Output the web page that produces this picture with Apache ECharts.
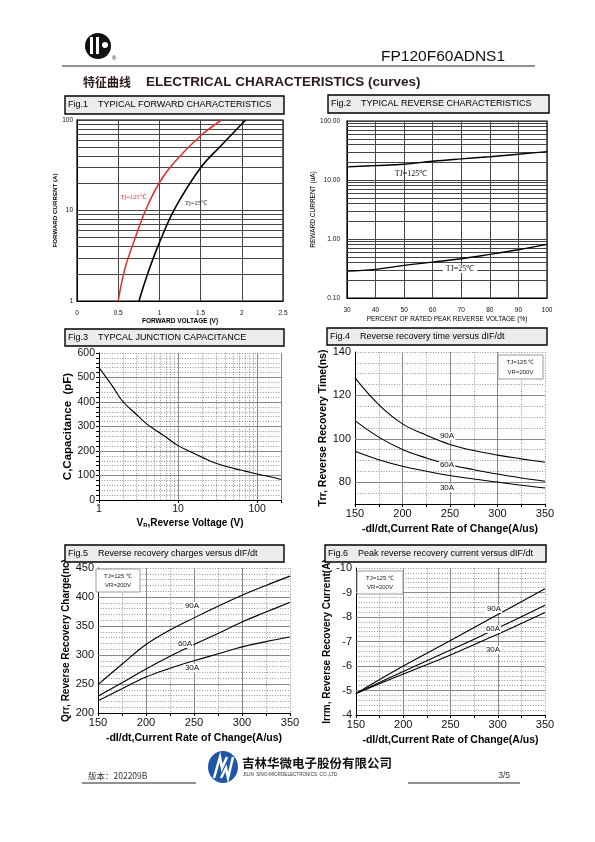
<!DOCTYPE html>
<html><head><meta charset="utf-8">
<script src="https://cdn.jsdelivr.net/npm/echarts@6/dist/echarts.min.js"></script>
<style>html,body{margin:0;padding:0;background:#fff}#c{width:595px;height:842px}</style>
</head><body><div id="c"></div>
<script>
// ---------- DATA ----------
// Fig.1 typical forward characteristics (V, A)
const fig1VfTj125 = [0.50, 0.583, 0.704, 0.825, 0.995, 1.19, 1.50, 1.756];
const fig1IfTj125 = [1, 2.3, 4.9, 9.7, 20, 34.7, 67, 100];
const fig1VfTj25  = [0.752, 0.866, 0.995, 1.19, 1.50, 1.756, 2.047];
const fig1IfTj25  = [1, 2.1, 4.3, 10.6, 29.7, 53, 100];
const fig1MinorI  = [2,3,4,5,6,7,8,9,20,30,40,50,60,70,80,90];
// Fig.2 typical reverse characteristics (% , uA)
const fig2Percent = [30, 40, 50, 60, 70, 80, 90, 100];
const fig2IrTj125 = [16.7, 17.5, 18.5, 20.8, 22.8, 24.8, 27.3, 30.3];
const fig2IrTj25  = [0.286, 0.306, 0.357, 0.406, 0.463, 0.548, 0.657, 0.81];
const fig2MinorI  = [0.2,0.3,0.4,0.5,0.6,0.7,0.8,0.9,2,3,4,5,6,7,8,9,20,30,40,50,60,70,80,90];
// Fig.3 junction capacitance (V, pF)
const fig3Vr  = [1, 1.5, 2, 3, 4, 5, 7, 10, 15, 20, 30, 50, 70, 100, 150, 200];
const fig3Cap = [540, 462, 402, 348, 311, 289, 257, 222, 194, 175, 150, 129, 118, 106, 94, 84];
const fig3MinorV = [2,3,4,5,6,7,8,9,20,30,40,50,60,70,80,90,200];
const fig3MajorC = [100, 200, 300, 400, 500];
// Fig.4 trr vs dI/dt
const didt = [150, 175, 200, 225, 250, 275, 300, 325, 350];
const fig4Trr90 = [128.1, 115.8, 106.9, 101.7, 97.4, 94.6, 92.5, 90.8, 89.2];
const fig4Trr60 = [108.4, 100.8, 95.1, 91.2, 88.1, 85.8, 83.8, 82.0, 80.5];
const fig4Trr30 = [94.3, 90.4, 87.4, 85.1, 83.1, 81.5, 80.1, 78.6, 77.4];
const fig4MajorT = [80, 100, 120];
const fig4LabelT = [80, 100, 120, 140];
// Fig.5 Qrr vs dI/dt
const fig5Qrr90 = [249, 284, 318, 343, 364, 384, 403, 420, 436];
const fig5Qrr60 = [229, 252, 276, 298, 318, 337, 357, 374, 391];
const fig5Qrr30 = [221, 242, 262, 277, 290, 302, 314, 323, 331];
const fig5MajorQ = [250, 300, 350, 400];
// Fig.6 Irrm vs dI/dt
const didt6 = [150, 200, 250, 300, 350];
const fig6Irrm90 = [-4.88, -6.0, -7.04, -8.1, -9.15];
const fig6Irrm60 = [-4.88, -5.78, -6.65, -7.55, -8.48];
const fig6Irrm30 = [-4.88, -5.67, -6.45, -7.3, -8.18];
const fig6MajorI = [-9, -8, -7, -6, -5];
const didtMajor = [200, 250, 300];

// ---------- HELPERS ----------
const SANS = "'Liberation Sans', Arial, sans-serif";
const NARROW = "'Liberation Sans Narrow', 'Liberation Sans', Arial, sans-serif";
const SERIF = "'Liberation Serif', 'Times New Roman', serif";
const zip = (a, b) => a.map((v, i) => [v, b[i]]);
const isPow10 = v => { const l = Math.log10(v); return Math.abs(l - Math.round(l)) < 1e-6; };
const near = (v, arr) => arr.some(a => Math.abs(a - v) < 1e-6);
const dotted = { color: '#777', width: 0.8, type: [1, 1.6] };
const solidG = { color: '#808080', width: 0.9, type: 'solid' };

function gridMarks(xs, ys, style) {
  return {
    silent: true, symbol: ['none', 'none'], label: { show: false }, animation: false,
    lineStyle: style, z: 1,
    data: [...(ys || []).map(v => ({ yAxis: v })), ...(xs || []).map(v => ({ xAxis: v }))]
  };
}
function line(gi, data, extra) {
  return Object.assign({
    type: 'line', xAxisIndex: gi, yAxisIndex: gi, data, smooth: 0.4, showSymbol: false,
    symbol: 'none', lineStyle: { color: '#000', width: 1.1 }, z: 5
  }, extra || {});
}
const tickLab = (size, fam) => ({ fontSize: size, color: '#111', fontFamily: fam || NARROW });
const boldName = size => ({ fontSize: size, fontWeight: 'bold', color: '#000', fontFamily: NARROW });

// ---------- GRAPHIC ----------
function titleBox(x, y, w, h, text) {
  return [
    { type: 'rect', shape: { x, y, width: w, height: h }, style: { fill: '#ececec', stroke: '#000', lineWidth: 1.4 }, z: 100 },
    { type: 'text', x: x + 3, y: y + h / 2, style: { text, fontSize: 9, fontFamily: SANS, fill: '#000', verticalAlign: 'middle' }, z: 101 }
  ];
}
function legendBox(x, y, w, h) {
  return [
    { type: 'rect', shape: { x, y, width: w, height: h }, style: { fill: '#fff', stroke: '#999', lineWidth: 1 }, z: 100 },
    { type: 'text', x: x + w / 2, y: y + h * 0.3, style: { text: 'TJ=125 ℃', fontSize: 6, fontFamily: SANS, fill: '#222', align: 'center', verticalAlign: 'middle' }, z: 101 },
    { type: 'text', x: x + w / 2, y: y + h * 0.72, style: { text: 'VR=200V', fontSize: 6, fontFamily: SANS, fill: '#222', align: 'center', verticalAlign: 'middle' }, z: 101 }
  ];
}
function curveLabel(x, y, text, opts) {
  return { type: 'text', x, y, z: 102, style: Object.assign({ text, fontSize: 8, fontFamily: NARROW, fill: '#111', align: 'center', verticalAlign: 'middle', backgroundColor: '#fff', padding: [0, 1] }, opts || {}) };
}

const graphics = [
  // header logo
  { type: 'circle', shape: { cx: 98, cy: 46, r: 13 }, style: { fill: '#111' }, z: 100 },
  { type: 'rect', shape: { x: 90, y: 37, width: 3, height: 17 }, style: { fill: '#fff' }, z: 101 },
  { type: 'rect', shape: { x: 96, y: 37, width: 3, height: 17 }, style: { fill: '#fff' }, z: 101 },
  { type: 'circle', shape: { cx: 105, cy: 45, r: 3 }, style: { fill: '#fff' }, z: 101 },
  { type: 'text', x: 112, y: 55, style: { text: '®', fontSize: 6, fill: '#000', fontFamily: SANS }, z: 101 },
  { type: 'text', x: 381, y: 57, style: { text: 'FP120F60ADNS1', fontSize: 15.5, fontFamily: SANS, fill: '#111', verticalAlign: 'middle' }, z: 100 },
  { type: 'line', shape: { x1: 62, y1: 66, x2: 535, y2: 66 }, style: { stroke: '#222', lineWidth: 1 }, z: 100 },
  { type: 'text', x: 83, y: 82, style: { text: '特征曲线', fontSize: 12, fontWeight: 'bold', fontFamily: "'Noto Sans CJK SC', sans-serif", fill: '#2a1a1a', verticalAlign: 'middle' }, z: 100 },
  { type: 'text', x: 146, y: 82, style: { text: 'ELECTRICAL CHARACTERISTICS (curves)', fontSize: 13.5, fontWeight: 'bold', fontFamily: SANS, fill: '#2a1a1a', verticalAlign: 'middle' }, z: 100 },
  // footer
  { type: 'text', x: 88, y: 776, style: { text: '版本：202209B', fontSize: 8.5, fontFamily: "'Noto Sans CJK SC', sans-serif", fill: '#333', verticalAlign: 'middle' }, z: 100 },
  { type: 'line', shape: { x1: 82, y1: 783, x2: 196, y2: 783 }, style: { stroke: '#222', lineWidth: 1 }, z: 100 },
  { type: 'line', shape: { x1: 408, y1: 783, x2: 520, y2: 783 }, style: { stroke: '#222', lineWidth: 1 }, z: 100 },
  { type: 'text', x: 510, y: 776, style: { text: '3/5', fontSize: 8.5, fontFamily: SANS, fill: '#333', align: 'right', verticalAlign: 'middle' }, z: 100 },
  { type: 'ellipse', shape: { cx: 223, cy: 767, rx: 15, ry: 16 }, style: { fill: '#1f56a8' }, z: 100 },
  { type: 'polyline', shape: { points: [[214, 778], [220, 757], [222, 768], [227, 757]] }, style: { stroke: '#fff', lineWidth: 2.5, fill: null }, z: 101 },
  { type: 'polyline', shape: { points: [[221, 778], [226, 768], [228, 778], [233, 757]] }, style: { stroke: '#fff', lineWidth: 2.5, fill: null }, z: 101 },
  { type: 'text', x: 242, y: 763, style: { text: '吉林华微电子股份有限公司', fontSize: 12.5, fontWeight: 'bold', fontFamily: "'Noto Sans CJK SC', sans-serif", fill: '#111', verticalAlign: 'middle' }, z: 100 },
  { type: 'text', x: 243, y: 775, style: { text: 'JILIN  SINO-MICROELECTRONICS  CO.,LTD', fontSize: 4.6, fontFamily: SANS, fill: '#333', verticalAlign: 'middle' }, z: 100 },
  // title boxes
  ...titleBox(65, 96, 219, 18, 'Fig.1    TYPICAL FORWARD CHARACTERISTICS'),
  ...titleBox(328, 95, 221, 18, 'Fig.2    TYPICAL REVERSE CHARACTERISTICS'),
  ...titleBox(65, 329, 219, 17, 'Fig.3    TYPCAL JUNCTION CAPACITANCE'),
  ...titleBox(327, 328, 220, 17, 'Fig.4    Reverse recovery time versus dIF/dt'),
  ...titleBox(65, 545, 219, 17, 'Fig.5    Reverse recovery charges versus dIF/dt'),
  ...titleBox(325, 545, 221, 17, 'Fig.6    Peak reverse recovery current versus dIF/dt'),
  // legend boxes
  ...legendBox(498, 355, 45, 24),
  ...legendBox(96, 569, 44, 23),
  ...legendBox(357, 571, 46, 23),
  // curve labels
  curveLabel(133, 197, 'Tj=125℃', { fontFamily: SERIF, fontSize: 6.5, fill: '#d42a2a', backgroundColor: 'transparent' }),
  curveLabel(196, 203, 'Tj=25℃', { fontFamily: SERIF, fontSize: 6.5, fill: '#222', backgroundColor: 'transparent' }),
  curveLabel(411, 174, 'TJ=125℃', { fontFamily: SERIF, fontSize: 8, fill: '#111', backgroundColor: 'transparent' }),
  curveLabel(460, 269, 'TJ=25℃', { fontFamily: SERIF, fontSize: 8, fill: '#111', padding: [0, 3] }),
  curveLabel(447, 436, '90A'), curveLabel(447, 465, '60A'), curveLabel(447, 488, '30A'),
  curveLabel(192, 606, '90A'), curveLabel(185, 644, '60A'), curveLabel(192, 668, '30A'),
  curveLabel(494, 609, '90A'), curveLabel(493, 629, '60A'), curveLabel(493, 650, '30A')
];

// ---------- AXES ----------
const grids = [
  { left: 77, top: 120, width: 206, height: 181, show: true, borderColor: '#000', borderWidth: 1.2 },
  { left: 347, top: 121, width: 200, height: 177, show: true, borderColor: '#000', borderWidth: 1.2 },
  { left: 99, top: 353, width: 182, height: 147 },
  { left: 355, top: 352, width: 190, height: 152 },
  { left: 98, top: 568, width: 192, height: 145 },
  { left: 356, top: 568, width: 189, height: 147 }
];
const didtX = gi => ({
  gridIndex: gi, type: 'value', min: 150, max: 350, interval: 25,
  axisLine: { show: true, onZero: false, lineStyle: { color: '#000', width: 1 } },
  axisTick: { show: true, length: 3, lineStyle: { color: '#000' }, interval: 0 },
  axisLabel: Object.assign(tickLab(11), { formatter: v => (v % 50 === 0 ? String(v) : ''), margin: 4 }),
  splitLine: { show: true, lineStyle: dotted },
  name: '-dI/dt,Current Rate of Change(A/us)', nameLocation: 'middle', nameGap: 20, nameTextStyle: boldName(10.5)
});
const xAxes = [
  { gridIndex: 0, type: 'value', min: 0, max: 2.5, interval: 0.5,
    axisLine: { show: true, onZero: false, lineStyle: { color: '#000' } }, axisTick: { show: false },
    axisLabel: Object.assign(tickLab(6.5, SANS), { margin: 9 }),
    splitLine: { show: true, lineStyle: { color: '#444', width: 1 } },
    name: 'FORWARD VOLTAGE (V)', nameLocation: 'middle', nameGap: 16, nameTextStyle: { fontSize: 6.5, fontFamily: NARROW, color: '#000', fontWeight: 'bold' } },
  { gridIndex: 1, type: 'value', min: 30, max: 100, interval: 10,
    axisLine: { show: true, onZero: false, lineStyle: { color: '#000' } }, axisTick: { show: false },
    axisLabel: Object.assign(tickLab(6.5, SANS), { margin: 9 }),
    splitLine: { show: true, lineStyle: { color: '#444', width: 1 } },
    name: 'PERCENT OF RATED PEAK REVERSE VOLTAGE (%)', nameLocation: 'middle', nameGap: 18, nameTextStyle: { fontSize: 6.5, fontFamily: SANS, color: '#000' } },
  { gridIndex: 2, type: 'log', logBase: 10, min: 1, max: 200,
    axisLine: { show: true, onZero: false, lineStyle: { color: '#000' } },
    axisTick: { show: true, length: 3, lineStyle: { color: '#000' } },
    axisLabel: Object.assign(tickLab(10.5), { formatter: v => (isPow10(v) ? String(Math.round(v)) : ''), margin: 4 }),
    splitLine: { show: true, lineStyle: solidG },
    name: '{b|V}{s|R}{b|,Reverse Voltage (V)}', nameLocation: 'middle', nameGap: 18,
    nameTextStyle: { rich: { b: boldName(10), s: { fontSize: 6, fontWeight: 'bold', fontFamily: NARROW, verticalAlign: 'bottom', padding: [4, 0, 0, 0] } } } },
  didtX(3), didtX(4), didtX(5)
];
const yAxes = [
  { gridIndex: 0, type: 'log', logBase: 10, min: 1, max: 100,
    axisLine: { show: true, lineStyle: { color: '#000' } }, axisTick: { show: false },
    axisLabel: Object.assign(tickLab(6.5, SANS), { formatter: v => (isPow10(v) ? String(Math.round(v)) : ''), margin: 4 }),
    splitLine: { show: true, lineStyle: { color: '#444', width: 1 } },
    name: 'FORWARD CURRENT (A)', nameLocation: 'middle', nameGap: 14, nameTextStyle: { fontSize: 6.2, fontFamily: NARROW, color: '#000', fontWeight: 'bold' } },
  { gridIndex: 1, type: 'log', logBase: 10, min: 0.1, max: 100,
    axisLine: { show: true, lineStyle: { color: '#000' } }, axisTick: { show: false },
    axisLabel: Object.assign(tickLab(6.5, SANS), { formatter: v => (isPow10(v) ? v.toFixed(2) : ''), margin: 7 }),
    splitLine: { show: true, lineStyle: { color: '#444', width: 1 } },
    name: 'REWARD CURRENT (uA)', nameLocation: 'middle', nameGap: 27, nameTextStyle: { fontSize: 6.5, fontFamily: SANS, color: '#000' } },
  { gridIndex: 2, type: 'value', min: 0, max: 600, interval: 20,
    axisLine: { show: true, lineStyle: { color: '#000' } },
    axisTick: { show: true, length: 3, lineStyle: { color: '#000' }, interval: 0 },
    axisLabel: Object.assign(tickLab(10.5), { formatter: v => (v % 100 === 0 ? String(v) : ''), margin: 4 }),
    splitLine: { show: true, lineStyle: dotted },
    name: 'C,Capacitance  (pF)', nameLocation: 'middle', nameGap: 23, nameTextStyle: boldName(11.5) },
  { gridIndex: 3, type: 'value', min: 70, max: 140, interval: 5,
    axisLine: { show: true, lineStyle: { color: '#000' } },
    axisTick: { show: false },
    axisLabel: Object.assign(tickLab(11), { formatter: v => (near(v, fig4LabelT) ? String(v) : ''), margin: 4 }),
    splitLine: { show: true, lineStyle: dotted },
    name: 'Trr, Reverse Recovery Time(ns)', nameLocation: 'middle', nameGap: 22, nameTextStyle: boldName(10.5) },
  { gridIndex: 4, type: 'value', min: 200, max: 450, interval: 10,
    axisLine: { show: true, lineStyle: { color: '#000' } },
    axisTick: { show: false },
    axisLabel: Object.assign(tickLab(11), { formatter: v => (v % 50 === 0 ? String(v) : ''), margin: 4 }),
    splitLine: { show: true, lineStyle: dotted },
    name: 'Qrr, Reverse Recovery Charge(nc)', nameLocation: 'middle', nameGap: 24, nameTextStyle: boldName(10) },
  { gridIndex: 5, type: 'value', min: -10, max: -4, interval: 0.2, inverse: true,
    axisLine: { show: true, lineStyle: { color: '#000' } },
    axisTick: { show: false },
    axisLabel: Object.assign(tickLab(11), { formatter: v => (Math.abs(v - Math.round(v)) < 1e-6 ? String(Math.round(v)) : ''), margin: 4 }),
    splitLine: { show: true, lineStyle: dotted },
    name: 'Irrm, Reverse Recovery Current(A)', nameLocation: 'middle', nameGap: 18, nameTextStyle: boldName(10) }
];

// ---------- SERIES ----------
const series = [
  line(0, zip(fig1VfTj25, fig1IfTj25), { lineStyle: { color: '#000', width: 1.6 },
    markLine: gridMarks(null, fig1MinorI, { color: '#444', width: 1, type: 'solid' }) }),
  line(0, zip(fig1VfTj125, fig1IfTj125), { lineStyle: { color: '#e0302c', width: 1.5, type: 'solid' }, z: 8 }),
  line(1, zip(fig2Percent, fig2IrTj125), { lineStyle: { color: '#000', width: 1.4 },
    markLine: gridMarks(null, fig2MinorI, { color: '#444', width: 1, type: 'solid' }) }),
  line(1, zip(fig2Percent, fig2IrTj25), { lineStyle: { color: '#000', width: 1.4 } }),
  line(2, zip(fig3Vr, fig3Cap), { lineStyle: { color: '#000', width: 1.1 },
    markLine: { silent: true, symbol: ['none', 'none'], label: { show: false }, animation: false,
      data: [...fig3MajorC.map(v => ({ yAxis: v, lineStyle: solidG })), ...fig3MinorV.map(v => ({ xAxis: v, lineStyle: dotted }))] } }),
  line(3, zip(didt, fig4Trr90), { markLine: gridMarks(didtMajor, fig4MajorT, solidG) }),
  line(3, zip(didt, fig4Trr60)),
  line(3, zip(didt, fig4Trr30)),
  line(4, zip(didt, fig5Qrr90), { markLine: gridMarks(didtMajor, fig5MajorQ, solidG) }),
  line(4, zip(didt, fig5Qrr60)),
  line(4, zip(didt, fig5Qrr30)),
  line(5, zip(didt6, fig6Irrm90), { markLine: gridMarks(didtMajor, fig6MajorI, solidG) }),
  line(5, zip(didt6, fig6Irrm60)),
  line(5, zip(didt6, fig6Irrm30))
];

const chart = echarts.init(document.getElementById('c'), null, { renderer: 'canvas' });
chart.setOption({
  animation: false,
  backgroundColor: '#fff',
  textStyle: { fontFamily: SANS },
  grid: grids, xAxis: xAxes, yAxis: yAxes, series, graphic: graphics
});
</script></body></html>
